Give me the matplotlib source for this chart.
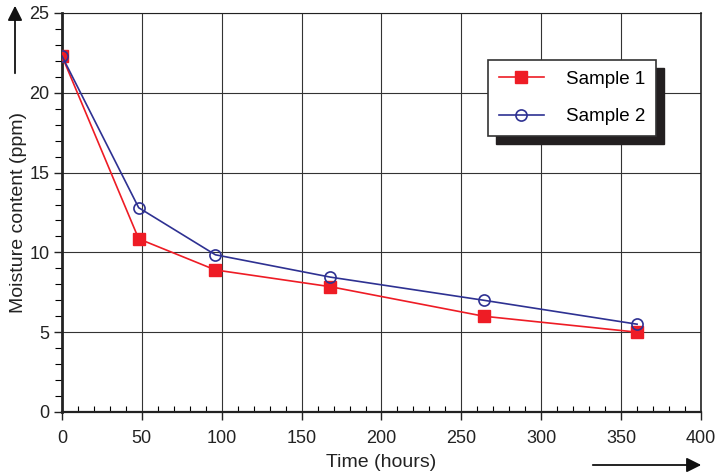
import matplotlib.pyplot as plt
from matplotlib.patches import Rectangle, FancyArrowPatch
from matplotlib.ticker import MultipleLocator

plt.rcParams['font.family'] = ['Liberation Sans', 'DejaVu Sans']

# data
time_h = [0, 48, 96, 168, 264, 360]
sample1 = [22.3, 10.85, 8.9, 7.85, 6.0, 5.0]
sample2 = [22.3, 12.8, 9.85, 8.45, 7.0, 5.5]

red = '#ee1c25'
blue = '#2e3192'

fig = plt.figure(figsize=(7.15, 4.76), dpi=100)
ax = fig.add_axes([0.0867, 0.1345, 0.8937, 0.8382])

ax.plot(time_h, sample1, color=red, lw=1.2, marker='s', ms=9,
        mfc=red, mec=red, label='Sample 1', zorder=4)
ax.plot(time_h, sample2, color=blue, lw=1.2, marker='o', ms=8,
        mfc='none', mec=blue, mew=1.2, label='Sample 2', zorder=5)

ax.set_xlim(0, 400)
ax.set_ylim(0, 25)
ax.xaxis.set_major_locator(MultipleLocator(50))
ax.xaxis.set_minor_locator(MultipleLocator(10))
ax.yaxis.set_major_locator(MultipleLocator(5))
ax.yaxis.set_minor_locator(MultipleLocator(1))
ax.grid(True, which='major', color='#333333', lw=0.8)
ax.set_axisbelow(True)

ax.tick_params(axis='both', which='major', labelsize=13, length=6,
               width=1, direction='out', color='#222222', labelcolor='#222222')
ax.tick_params(axis='x', which='major', pad=7)
ax.tick_params(axis='y', which='major', pad=3)
ax.tick_params(axis='x', which='minor', direction='in', length=4, width=0.8)
ax.tick_params(axis='y', which='minor', direction='out', length=5, width=0.8)

ax.spines['left'].set_linewidth(2)
ax.spines['bottom'].set_linewidth(1.6)
ax.spines['top'].set_linewidth(0.8)
ax.spines['right'].set_linewidth(1.2)
for s in ax.spines.values():
    s.set_color('#222222')

ax.set_xlabel('Time (hours)', fontsize=14, color='#222222', labelpad=5)
ax.set_ylabel('Moisture content (ppm)', fontsize=14, color='#222222', labelpad=2)

leg = ax.legend(loc='upper left', bbox_to_anchor=(0.667, 0.882), fontsize=13.5,
                frameon=True, fancybox=False, edgecolor='#333333',
                borderpad=0.55, labelspacing=1.1, handlelength=2.4,
                handletextpad=1.2, borderaxespad=0)
leg.get_frame().set_linewidth(1.2)
leg.get_frame().set_alpha(1)
leg.set_zorder(10)

# black drop shadow behind the legend
fig.canvas.draw()
bb = leg.get_frame().get_window_extent().transformed(ax.transAxes.inverted())
dx, dy = 8 / 639, 8 / 399
ax.add_patch(Rectangle((bb.x0 + dx, bb.y0 - dy), bb.width, bb.height,
                       transform=ax.transAxes, color='#231f20', zorder=9,
                       clip_on=False))

# direction arrows
fig.add_artist(FancyArrowPatch(
    (15 / 715, 1 - 76 / 476), (15 / 715, 1 - 3 / 476), transform=fig.transFigure,
    arrowstyle='-|>', mutation_scale=22, color='#111111', lw=1.3))
fig.add_artist(FancyArrowPatch(
    (590 / 715, 1 - 465 / 476), (704 / 715, 1 - 465 / 476), transform=fig.transFigure,
    arrowstyle='-|>', mutation_scale=22, color='#111111', lw=1.3))

fig.savefig('out.png', dpi=100)
